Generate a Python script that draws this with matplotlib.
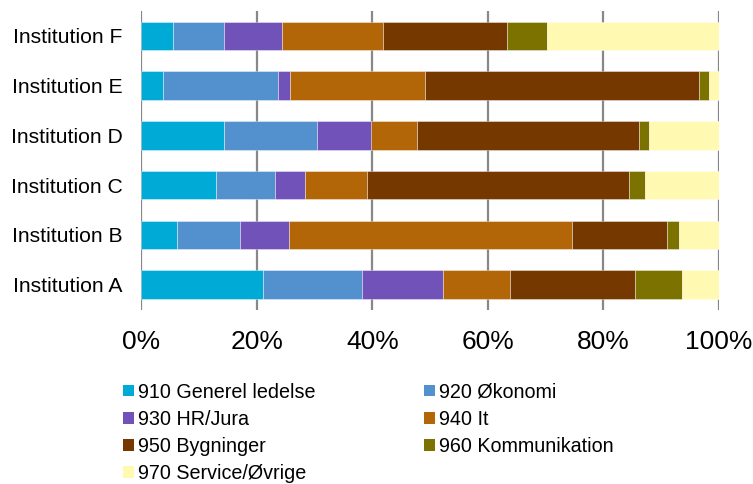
import matplotlib
matplotlib.use("Agg")
import matplotlib.pyplot as plt
from matplotlib.patches import Patch
import numpy as np

plt.rcParams['font.family'] = ['Liberation Sans', 'DejaVu Sans']

institutions = ["Institution A", "Institution B", "Institution C",
                "Institution D", "Institution E", "Institution F"]
series = ["910 Generel ledelse", "920 Økonomi", "930 HR/Jura", "940 It",
          "950 Bygninger", "960 Kommunikation", "970 Service/Øvrige"]
colors = ["#00AAD6", "#5391CE", "#7152B8", "#B36608", "#753900", "#7C7200", "#FFF9B2"]

# percentages per series, order: A, B, C, D, E, F
s910 = [21.1, 6.2, 13.0, 14.3, 3.8, 5.5]
s920 = [17.1, 10.9, 10.1, 16.1, 19.8, 8.8]
s930 = [14.0, 8.4, 5.3, 9.4, 2.1, 10.0]
s940 = [11.6, 49.1, 10.6, 7.9, 23.4, 17.6]
s950 = [21.7, 16.5, 45.5, 38.4, 47.4, 21.5]
s960 = [8.1, 2.0, 2.7, 1.8, 1.8, 6.8]
s970 = [6.4, 6.9, 12.8, 12.1, 1.7, 29.8]
values = [s910, s920, s930, s940, s950, s960, s970]

xticks = [0, 20, 40, 60, 80, 100]
xticklabels = ["0%", "20%", "40%", "60%", "80%", "100%"]

fig = plt.figure(figsize=(7.53, 4.84), dpi=100)
ax = fig.add_axes([141.3/753, 1 - 309.5/484, (718.8 - 141.3)/753, (309.5 - 11)/484])

y = np.arange(len(institutions))
left = np.zeros(len(institutions))
for vals, col, name in zip(values, colors, series):
    ax.barh(y, vals, left=left, height=0.575, color=col, label=name,
            edgecolor=(1, 1, 1, 0.45), linewidth=0.6, zorder=3)
    left += np.array(vals)

ax.set_xlim(0, 100)
ax.set_ylim(-0.5, len(institutions) - 0.5)
ax.set_yticks(y)
ax.set_yticklabels(institutions, fontsize=15.2)
ax.set_xticks(xticks)
ax.set_xticklabels(xticklabels, fontsize=19)
ax.tick_params(axis='both', length=0)
ax.tick_params(axis='x', pad=15)
ax.tick_params(axis='y', pad=13.5)
ax.grid(axis='x', color='#888888', linewidth=1.6, zorder=0)
for s in ax.spines.values():
    s.set_visible(False)

handles = [Patch(facecolor=c, edgecolor='none') for c in colors]
order = [0, 2, 4, 6, 1, 3, 5]
fig.legend([handles[i] for i in order], [series[i] for i in order],
           ncol=2, loc='upper left', bbox_to_anchor=(123/753, 1 - 382.5/484),
           frameon=False, fontsize=14.2, handlelength=0.55, handleheight=0.55,
           handletextpad=0.2, columnspacing=5.5, labelspacing=0.42,
           borderpad=0, borderaxespad=0)

fig.savefig("out.png", dpi=100)
